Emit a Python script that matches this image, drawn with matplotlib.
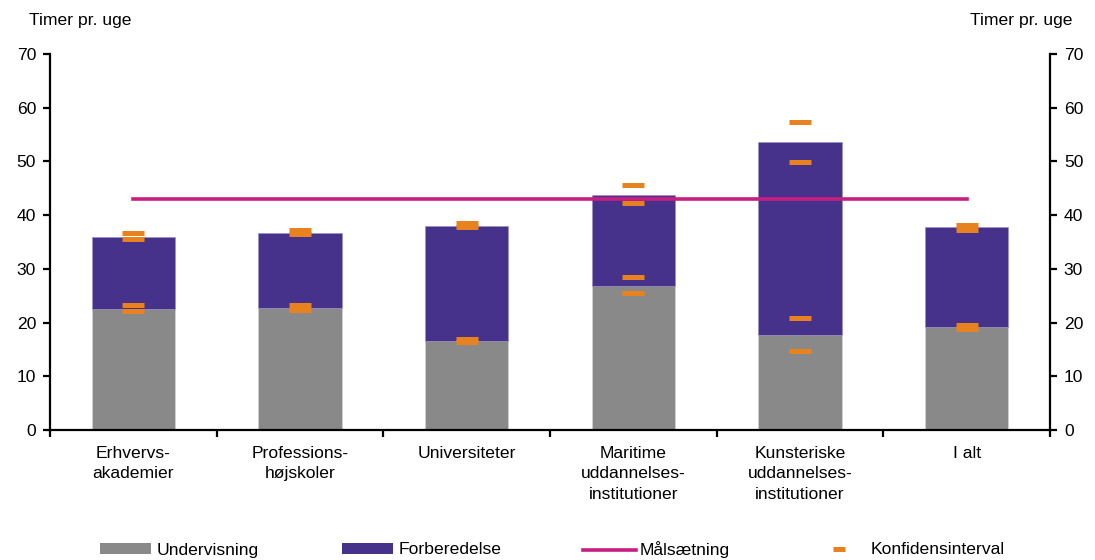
import matplotlib
matplotlib.use("Agg")
import matplotlib.pyplot as plt
from matplotlib.patches import Patch
from matplotlib.lines import Line2D

plt.rcParams["font.family"] = ["Liberation Sans", "DejaVu Sans"]

# Data (timer pr. uge)
kategorier = ["Erhvervs-\nakademier", "Professions-\nhøjskoler", "Universiteter",
              "Maritime\nuddannelses-\ninstitutioner", "Kunsteriske\nuddannelses-\ninstitutioner",
              "I alt"]
undervisning = [22.6, 22.7, 16.6, 26.9, 17.7, 19.2]
total = [35.9, 36.7, 37.9, 43.8, 53.6, 37.7]
forberedelse = [t - u for t, u in zip(total, undervisning)]
maalsaetning = [43.0] * 6
# konfidensintervaller: undervisning (lav, høj) og i alt (lav, høj)
ki_underv_lav = [22.2, 22.4, 16.3, 25.5, 14.7, 18.8]
ki_underv_hoj = [23.3, 23.2, 17.0, 28.4, 20.8, 19.6]
ki_total_lav = [35.5, 36.5, 37.7, 42.3, 49.9, 37.3]
ki_total_hoj = [36.6, 37.3, 38.5, 45.6, 57.3, 38.1]

GRAA = "#898989"
LILLA = "#46328A"
MAGENTA = "#C81E82"
ORANGE = "#E8821E"
fs = 12.6

fig = plt.figure(figsize=(10.95, 5.6), dpi=100)
ax = fig.add_axes([50 / 1095, 130 / 560, 1000 / 1095, 376 / 560])

x = list(range(len(kategorier)))
ax.bar(x, undervisning, width=0.5, color=GRAA, edgecolor="#d8d8d8", linewidth=0.4, zorder=2)
ax.bar(x, forberedelse, width=0.5, bottom=undervisning, color=LILLA,
       edgecolor="#9a90c0", linewidth=0.4, zorder=2)
ax.plot(x, maalsaetning, color=MAGENTA, lw=2.6, zorder=3)
for serie in (ki_underv_lav, ki_underv_hoj, ki_total_lav, ki_total_hoj):
    ax.plot(x, serie, ls="none", marker="_", ms=16.3, mew=3.6, color=ORANGE, zorder=4)

ax.set_xlim(-0.5, len(kategorier) - 0.5)
ax.set_ylim(0, 70)
ax.set_yticks(range(0, 71, 10))
ax.set_xticks([i - 0.5 for i in range(len(kategorier) + 1)])
ax.set_xticklabels([])
for i, lab in enumerate(kategorier):
    ax.text(i, -2.9, lab, ha="center", va="top", fontsize=fs, linespacing=1.47)

ax.spines["top"].set_visible(False)
for s in ("left", "right", "bottom"):
    ax.spines[s].set_linewidth(1.6)
ax.tick_params(axis="both", direction="out", length=5, width=1.6, labelsize=fs)
ax.tick_params(axis="y", left=True, right=True, labelleft=True, labelright=True, pad=5)

fig.text(29 / 1095, 1 - 20 / 560, "Timer pr. uge", fontsize=fs, ha="left", va="center")
fig.text(1073 / 1095, 1 - 20 / 560, "Timer pr. uge", fontsize=fs, ha="right", va="center")

# Forklaring
elementer = [
    (Patch(facecolor=GRAA), "Undervisning", 100, 2.9, 0.35),
    (Patch(facecolor=LILLA), "Forberedelse", 342, 2.9, 0.35),
    (Line2D([], [], color=MAGENTA, lw=2.6), "Målsætning", 583, 3.0, 0.23),
    (Line2D([], [], ls="none", marker="_", ms=8, mew=3.6, color=ORANGE), "Konfidensinterval", 833, 0.7, 1.43),
]
for h, lab, xp, hl, tp in elementer:
    fig.legend([h], [lab], loc="center left", bbox_to_anchor=(xp / 1095, 1 - 550 / 560),
               frameon=False, fontsize=fs, borderpad=0, borderaxespad=0,
               handlelength=hl, handleheight=0.6, handletextpad=tp)

fig.savefig("out.png", dpi=100)
